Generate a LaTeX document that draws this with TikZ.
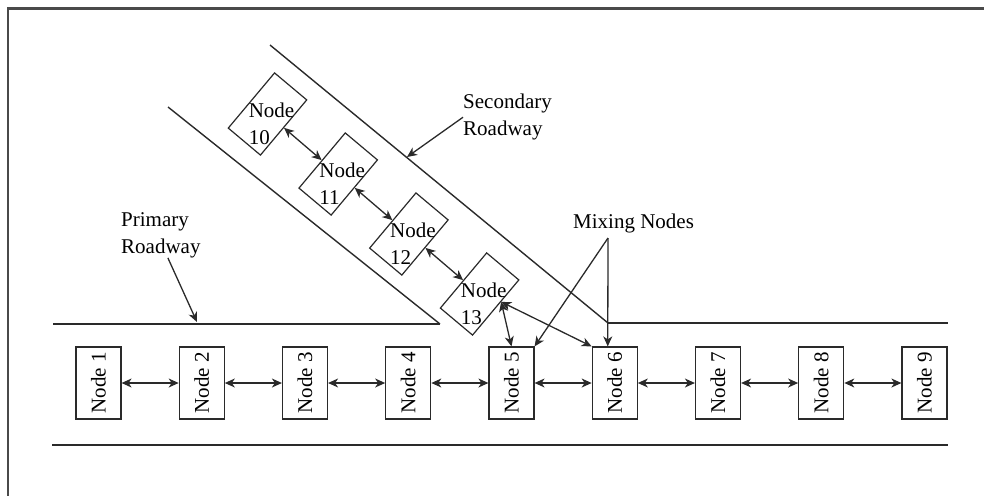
\documentclass[tikz,border=0pt]{standalone}
\usepackage{fontspec}
\setmainfont{Liberation Serif}
\usepackage{graphicx}
\usetikzlibrary{arrows.meta}
\definecolor{RoadLine}{HTML}{2A2A2A}
\definecolor{FrameLine}{HTML}{4A4A4A}
\tikzset{
  nodefont/.style={font=\fontsize{21}{27}\selectfont},
  mainbox/.style={draw=RoadLine,line width=1.2pt,minimum width=45pt,minimum height=72pt,inner sep=0pt,nodefont},
  slantbox/.style={draw=RoadLine,line width=1.2pt,minimum width=42pt,minimum height=72pt,inner sep=0pt,rotate=-40},
  slanttext/.style={align=left,inner sep=0pt,nodefont},
  tagtext/.style={align=left,inner sep=0pt,nodefont},
  linkarrow/.style={RoadLine,line width=1.3pt,{Stealth[length=10pt,width=9pt,inset=3pt]}-{Stealth[length=10pt,width=9pt,inset=3pt]}},
  callout/.style={RoadLine,line width=1.3pt,-{Stealth[length=10pt,width=9pt,inset=3pt]}},
  roadedge/.style={RoadLine,line width=1.4pt}
}

\begin{document}
\begin{tikzpicture}[x=1pt,y=-1pt]
    \useasboundingbox (0,0) rectangle (984,496);
    \draw[FrameLine,line width=2.2pt] (984,8.5) -- (8,8.5) -- (8,496);

    \draw[roadedge] (53,324) -- (440,324);
    \draw[roadedge] (608,323) -- (948,323);
    \draw[roadedge] (52,445) -- (948,445);
    \draw[roadedge] (270,45) -- (608,323);
    \draw[roadedge] (168,107) -- (440,324);

    \foreach \i in {1,...,9} {
      \node[mainbox] (n\i) at ({98.5+103.25*(\i-1)},383) {\rotatebox{90}{Node \i}};
    }
    \foreach \i/\j in {1/2,2/3,3/4,4/5,5/6,6/7,7/8,8/9} {
      \draw[linkarrow] (n\i.east) -- (n\j.west);
    }

    \foreach \i/\x/\y in {10/267.5/114,11/338.2/174,12/408.9/234,13/479.6/294} {
      \node[slantbox] (n\i) at (\x,\y) {};
      \node[slanttext] (t\i) at ([shift={(4,10)}]n\i.center) {Node\\\i};
    }
    \foreach \i/\j in {10/11,11/12,12/13} {
      \draw[linkarrow] (n\i.east) -- (n\j.west);
    }
    \draw[linkarrow] (n13.20) -- (n5.north);
    \draw[linkarrow] (n13.20) -- (n6.north west);

    \node[tagtext,anchor=north west] (prim) at (121,212) {Primary\\Roadway};
    \coordinate (primtip) at (197,322);
    \draw[callout] ([xshift=7pt]prim.south) -- (primtip);

    \node[tagtext,anchor=north west] (sec) at (463,94) {Secondary\\Roadway};
    \coordinate (sectip) at (407,157);
    \draw[callout] (sec.west) -- (sectip);

    \node[tagtext,anchor=north west] (mix) at (573,214) {Mixing Nodes};
    \coordinate (mixfoot) at (608,238);
    \draw[callout] (mixfoot) -- (n5.north east);
    \draw[callout] (mixfoot) -- ([xshift=-7pt]n6.north);
  \end{tikzpicture}
\end{document}
